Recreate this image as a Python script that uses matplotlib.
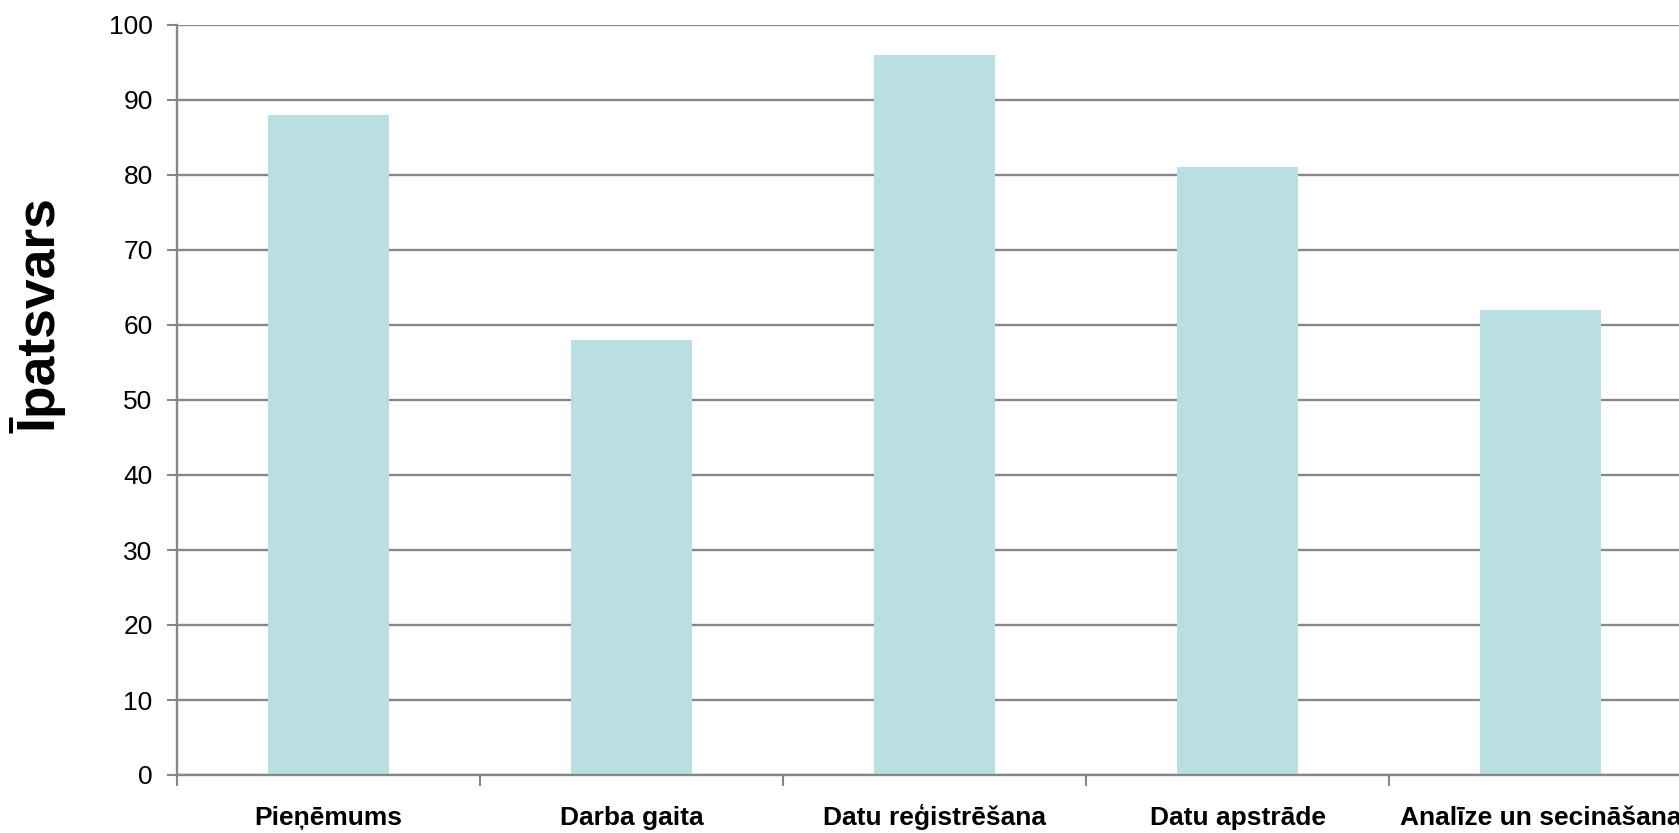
import matplotlib
matplotlib.use('Agg')
import matplotlib.pyplot as plt
import numpy as np
from matplotlib.ticker import FixedLocator

plt.rcParams['font.family'] = ['Liberation Sans', 'DejaVu Sans']

# data
categories = ['Pieņēmums', 'Darba gaita', 'Datu reģistrēšana', 'Datu apstrāde', 'Analīze un secināšana']
values = [88, 58, 96, 81, 62]

grid_c = '#878787'
bar_c = '#b9dfe2'

fig = plt.figure(figsize=(16.79, 8.33), dpi=100)
# plot area runs off the right edge of the canvas
ax = fig.add_axes([177/1679, 58/833, 1515/1679, 750/833])

x = np.arange(len(categories))
ax.bar(x, values, width=0.40, color=bar_c, zorder=2)

ax.set_xlim(-0.5, len(categories) - 0.5)
ax.set_ylim(0, 100)
ax.set_yticks(np.arange(0, 101, 10))
ax.yaxis.grid(True, color=grid_c, linewidth=1.7, zorder=1)
ax.set_axisbelow(True)

for s in ['top', 'right']:
    ax.spines[s].set_visible(False)
for s in ['left', 'bottom']:
    ax.spines[s].set_color(grid_c)
    ax.spines[s].set_linewidth(1.7)

ax.set_xticks(x)
ax.set_xticklabels(categories, fontsize=19, fontweight='bold', va='baseline')
ax.xaxis.set_minor_locator(FixedLocator(np.arange(len(categories)) - 0.5))
ax.tick_params(axis='x', which='major', length=0, pad=36)
ax.tick_params(axis='x', which='minor', length=8, width=1.5, color=grid_c)
ax.tick_params(axis='y', length=7.5, width=1.5, color=grid_c, pad=10, labelsize=19)

ax.set_ylabel('Īpatsvars', fontsize=38.5, fontweight='bold', va='center')
ax.yaxis.set_label_coords((39 - 177) / 1515, (775 - 316) / 750)

plt.savefig('out.png', dpi=100)
